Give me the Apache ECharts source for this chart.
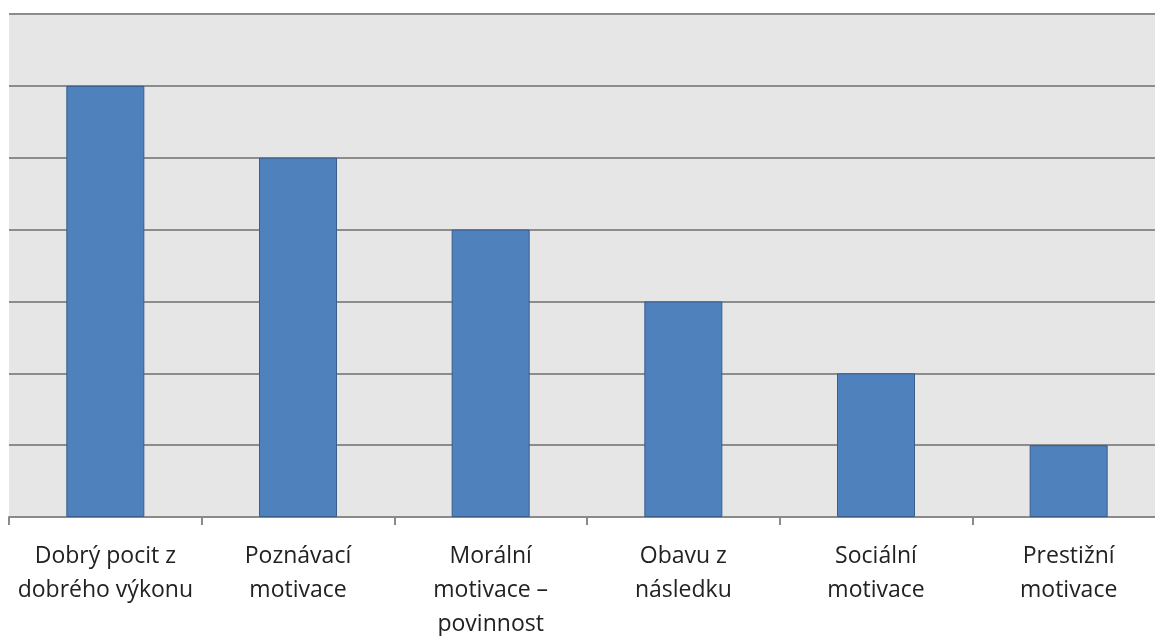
<!DOCTYPE html>
<html><head><meta charset="utf-8">
<script src="https://cdn.jsdelivr.net/npm/echarts@6/dist/echarts.min.js"></script>
<style>html,body{margin:0;padding:0;background:#fff}#c{width:1155px;height:636px}</style>
</head><body><div id="c"></div>
<script>
const categories = ["Dobrý pocit z\ndobrého výkonu","Poznávací\nmotivace","Morální\nmotivace –\npovinnost","Obavu z\nnásledku","Sociální\nmotivace","Prestižní\nmotivace"];
const values = [6,5,4,3,2,1];
const yMin = 0, yMax = 7, yStep = 1;

const chart = echarts.init(document.getElementById('c'));
chart.setOption({
  animation:false,
  grid:{left:9,width:1156,top:14,height:503,outerBoundsMode:'none',containLabel:false,show:true,backgroundColor:'#e6e6e6',borderWidth:0},
  xAxis:{type:'category',data:categories,
    axisLine:{lineStyle:{color:'#8a8a8a',width:2}},
    axisTick:{show:true,length:8,lineStyle:{color:'#8a8a8a',width:2}},
    axisLabel:{interval:0,margin:22,fontFamily:'"Open Sans", sans-serif',fontSize:23,lineHeight:34,color:'#222222'}},
  yAxis:{type:'value',min:yMin,max:yMax,interval:yStep,
    axisLabel:{show:false},axisLine:{show:false},axisTick:{show:false},
    splitLine:{lineStyle:{color:'#8c8c8c',width:2}}},
  series:[{type:'bar',data:values,barWidth:78,
    itemStyle:{color:'#4f81bd',borderColor:'#385d8a',borderWidth:1}}]
});
</script></body></html>
